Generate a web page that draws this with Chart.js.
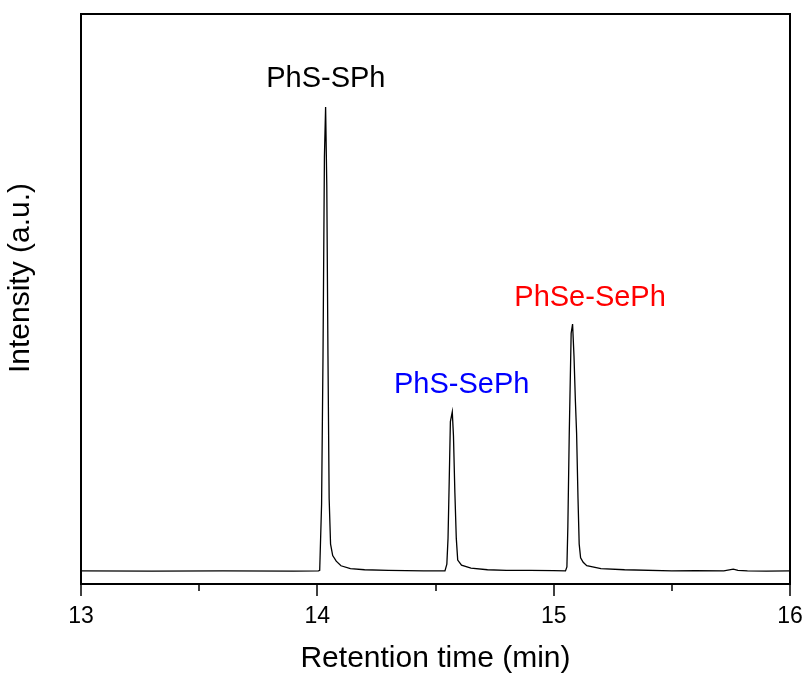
<!DOCTYPE html>
<html>
<head>
<meta charset="utf-8">
<script src="https://cdn.jsdelivr.net/npm/chart.js@4"></script>
<style>
  html, body { margin: 0; padding: 0; background: #fff; }
  #wrap { width: 808px; height: 677px; }
</style>
</head>
<body>
<div id="wrap"><canvas id="gcChart" width="808" height="677"></canvas></div>
<script>
// retention time (min) and detector signal (a.u.)
const retTime = [
  13.00, 13.30, 13.60, 13.90, 14.005,
  14.010, 14.018, 14.024, 14.030, 14.035, 14.040, 14.045, 14.050, 14.056, 14.065, 14.080, 14.100, 14.140, 14.200,
  14.300, 14.450, 14.540,
  14.548, 14.553, 14.558, 14.563, 14.571, 14.576, 14.582, 14.588, 14.594, 14.610, 14.650, 14.720,
  14.800, 14.900, 15.000, 15.050,
  15.056, 15.060, 15.066, 15.074, 15.080, 15.086, 15.092, 15.097, 15.103, 15.108, 15.114, 15.125, 15.140, 15.200,
  15.300, 15.500, 15.600, 15.720, 15.760, 15.780, 15.820, 15.900, 16.00
];
const signal = [
  2.3, 2.25, 2.3, 2.25, 2.3,
  2.4, 14, 40, 75, 83.7, 70, 40, 15, 7, 5, 4, 3.2, 2.7, 2.5,
  2.4, 2.3, 2.3,
  3.5, 8, 18, 28.5, 30.2, 26, 16, 8, 4.2, 3.3, 2.8, 2.5,
  2.4, 2.4, 2.35, 2.3,
  3, 10, 26.5, 44, 45.6, 40, 32, 26.5, 15, 7, 4.6, 3.8, 3.2, 2.7,
  2.5, 2.3, 2.35, 2.3, 2.6, 2.4, 2.3, 2.25, 2.3
];

// peak labels
const peakNames = ['PhS-SPh', 'PhS-SePh', 'PhSe-SePh'];
const peakLabelX = [14.036, 14.611, 15.154];
const peakLabelY = [88.6, 35.0, 50.1];
const peakColors = ['#000000', '#0000ff', '#ff0000'];

const xTickValues = [13, 14, 15, 16];
const xMinorValues = [13.5, 14.5, 15.5];

const FONT = 'Arial, "Liberation Sans", sans-serif';

const frameAndLabels = {
  id: 'frameAndLabels',
  afterDraw(chart) {
    const { ctx, chartArea: a, scales } = chart;
    const xs = scales.x, ys = scales.y;
    ctx.save();
    // box
    ctx.strokeStyle = '#000';
    ctx.lineWidth = 2;
    ctx.strokeRect(a.left, a.top, a.right - a.left, a.bottom - a.top);
    // ticks, outward
    ctx.lineWidth = 1.5;
    ctx.beginPath();
    xTickValues.forEach(v => {
      const px = Math.round(xs.getPixelForValue(v));
      ctx.moveTo(px, a.bottom); ctx.lineTo(px, a.bottom + 12);
    });
    xMinorValues.forEach(v => {
      const px = Math.round(xs.getPixelForValue(v));
      ctx.moveTo(px, a.bottom); ctx.lineTo(px, a.bottom + 7);
    });
    ctx.stroke();
    // peak labels
    ctx.font = '29px ' + FONT;
    ctx.textAlign = 'center';
    ctx.textBaseline = 'middle';
    peakNames.forEach((name, i) => {
      ctx.fillStyle = peakColors[i];
      ctx.fillText(name, xs.getPixelForValue(peakLabelX[i]), ys.getPixelForValue(peakLabelY[i]));
    });
    // y title
    ctx.fillStyle = '#000';
    ctx.font = '30px ' + FONT;
    ctx.translate(21, 278);
    ctx.rotate(-Math.PI / 2);
    ctx.fillText('Intensity (a.u.)', 0, 0);
    ctx.restore();
  }
};

const ctx = document.getElementById('gcChart').getContext('2d');
const chart = new Chart(ctx, {
  type: 'line',
  data: {
    datasets: [{
      data: retTime.map((t, i) => ({ x: t, y: signal[i] })),
      borderColor: '#000',
      borderWidth: 1.3,
      pointRadius: 0,
      tension: 0,
      fill: false
    }]
  },
  options: {
    responsive: false,
    animation: false,
    layout: { padding: { left: 0, right: 18, top: 14, bottom: 0 } },
    plugins: {
      legend: { display: false },
      tooltip: { enabled: false }
    },
    scales: {
      x: {
        type: 'linear',
        min: 13,
        max: 16,
        afterFit(scale) {
          scale.height = 93;
          scale.paddingLeft = 0;
          scale.paddingRight = 0;
        },
        afterBuildTicks(scale) { scale.ticks = xTickValues.map(v => ({ value: v })); },
        grid: { display: false, drawTicks: false, tickLength: 0 },
        border: { display: false },
        ticks: {
          padding: 19,
          color: '#000',
          font: { family: FONT, size: 23 },
          maxRotation: 0
        },
        title: {
          display: true,
          text: 'Retention time (min)',
          color: '#000',
          font: { family: FONT, size: 30 },
          padding: { top: 0, bottom: 0 }
        }
      },
      y: {
        min: 0,
        max: 100,
        afterFit(scale) { scale.width = 81; },
        grid: { display: false, drawTicks: false },
        border: { display: false },
        ticks: { display: false }
      }
    }
  },
  plugins: [frameAndLabels]
});
</script>
</body>
</html>
